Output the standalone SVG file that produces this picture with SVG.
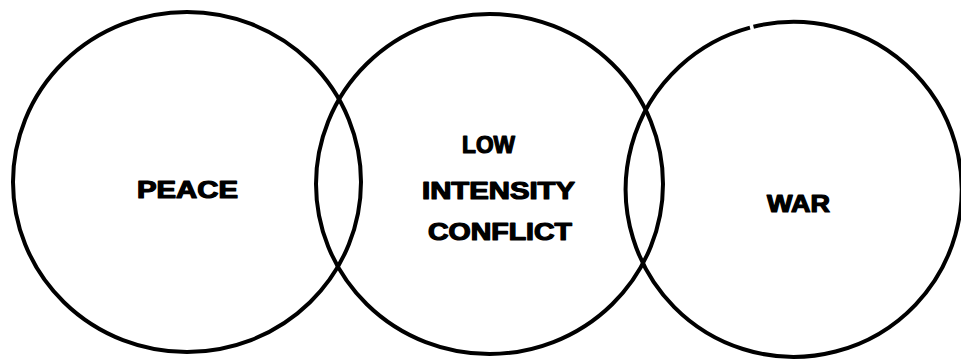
<svg xmlns="http://www.w3.org/2000/svg" width="961" height="360" viewBox="0 0 961 360">
<style>
.c{fill:none;stroke:#000;stroke-width:4}
.t{font-family:"Liberation Sans",Arial,sans-serif;font-weight:bold;font-size:23px;fill:#000;stroke:#000;stroke-width:1.2;stroke-linejoin:round;text-anchor:start}
</style>
<rect width="961" height="360" fill="#fff"/>
<g id="peace">
<ellipse class="c" cx="187" cy="182" rx="174" ry="170"/>
<text class="t" x="137" y="198" textLength="101" lengthAdjust="spacingAndGlyphs">PEACE</text>
</g>
<g id="lic">
<ellipse class="c" cx="489.5" cy="184" rx="173.5" ry="170"/>
<text class="t" x="462" y="153" textLength="53" lengthAdjust="spacingAndGlyphs">LOW</text>
<text class="t" x="422" y="199" textLength="153" lengthAdjust="spacingAndGlyphs">INTENSITY</text>
<text class="t" x="428" y="240" textLength="144" lengthAdjust="spacingAndGlyphs">CONFLICT</text>
</g>
<g id="war">
<path class="c" d="M753.5,26.7 A168,167.5 0 1 1 750,27.6"/>
<text class="t" x="767" y="212" textLength="63" lengthAdjust="spacingAndGlyphs">WAR</text>
</g>
<g id="connectors"></g>
</svg>
